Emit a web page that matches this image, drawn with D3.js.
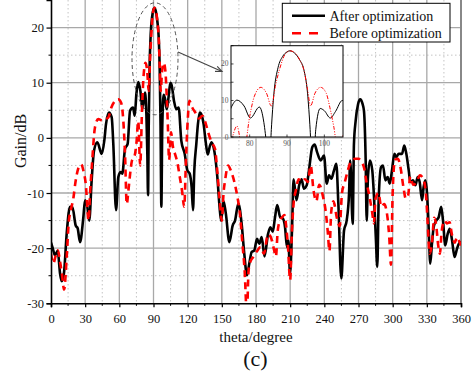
<!DOCTYPE html>
<html><head><meta charset="utf-8">
<script src="https://cdn.jsdelivr.net/npm/d3@7"></script>
<style>
body{margin:0;background:#fff}
svg{display:block;font-family:"Liberation Serif","Times New Roman",serif}
</style>
</head><body>
<svg id="chart" width="473" height="379"></svg>
<script>
// ---- data (theta in degrees, gain in dB) ----
const afterSeries = [[0,-19],[1.5,-20],[3.5,-21.3],[5.9,-20.5],[7.9,-24.5],[9.4,-26],[11.4,-24.5],[13.8,-17.3],[16.7,-12.5],[18.7,-12.5],[21.7,-15.9],[23.4,-16.4],[25.5,-18.9],[28.4,-14.4],[29.9,-11.3],[31.9,-12.5],[33.6,-15],[35.7,-7.7],[37.8,-2.3],[40.7,-0.8],[44.5,-2.9],[46.8,-0.5],[48.3,2.5],[50.9,4.6],[53.3,3.7],[54.7,-1.1],[57.1,-13.1],[59.1,-7.1],[61.2,-6.2],[62.6,-6.5],[65,-2],[67.3,-1.1],[69.4,4.9],[72,5.5],[73.5,4],[75,8],[76.6,10.1],[78.5,8.5],[80.2,5.2],[82.6,8.2],[83.8,4],[84.6,-3],[85.2,-10.4],[85.8,2],[86.5,12],[87.6,19],[88.8,22],[90,23.3],[90.8,23.6],[92,23],[93.4,21.1],[94.5,18.5],[95.5,12],[96.2,2],[96.9,-12.5],[97.7,2],[98.9,7.8],[100,7.2],[101.6,5.2],[103,7],[104.8,10],[106,9.5],[108,6.7],[110,5.2],[112.1,5.5],[114.4,-0.5],[117.4,-2.9],[119.7,-5.9],[121.8,-6.5],[123.5,-9],[124.7,-13.1],[125.8,-6],[127.6,-1.1],[129,2.5],[130.6,4.6],[132.5,4],[134,2.5],[136,-1],[137.6,-3],[139.5,-1.5],[141,-0.8],[143.5,-2.5],[146,-7],[148,-12.5],[149.3,-15],[151.5,-11.5],[153.5,-13.7],[156.6,-18.9],[159.5,-15.9],[161.6,-15],[164.5,-11.9],[167.4,-15.6],[169.7,-21],[172.1,-24.9],[174.1,-22.8],[176.2,-20.7],[178.5,-20.4],[180.9,-18.3],[182.9,-19.2],[185,-18],[187.5,-21.5],[190.5,-17.5],[192.6,-16.2],[194.7,-17],[196.7,-14.4],[198.6,-12.2],[201.3,-14.4],[203.5,-14.6],[205.5,-16.2],[207.2,-19.8],[208.4,-18.6],[209.9,-24.6],[211.6,-16.8],[213,-7.5],[215.5,-11.3],[218,-8.5],[220,-7.5],[222.1,-9.2],[224.5,-8.6],[226.5,-5.9],[229.4,-1.7],[231.5,-1.2],[233.5,-2.5],[236.8,-4.1],[239.7,-3.2],[242.1,-8.3],[244.1,-6.8],[246.1,-7.4],[248.5,-5.9],[250.5,-4.7],[252.3,-11.9],[254.9,-25.5],[257.3,-16.8],[259.6,-15],[261.7,-10.1],[262.7,-4.1],[264.9,-15.6],[266,-1.1],[267.5,3.1],[269.6,6.1],[271.5,7],[273.5,6.2],[274.8,4.9],[276.3,-4.1],[277.2,-15],[278.3,-7.1],[280.1,-4.1],[282.1,-5.9],[283.6,-10.7],[285.2,-18],[286.5,-23.4],[287.7,-11.3],[289.8,-5.3],[291.5,-5],[293.6,-7.7],[295.6,-7.1],[297.4,-8.3],[299.4,-5.9],[301.5,-2.9],[303.2,-3.5],[305.3,-2.9],[308.2,-2.9],[310.2,-1.4],[312,-2.9],[314.1,-5.9],[315.5,-8],[317.9,-7.7],[319.9,-8.6],[322,-7.1],[323.7,-8],[325.8,-11.3],[327.2,-8.9],[328.7,-7.7],[330.2,-10.1],[331.6,-16.2],[333,-22.8],[334.5,-19.2],[336,-16.2],[338.3,-15],[340.4,-14.4],[342.6,-12.5],[344.2,-15],[346.2,-19.5],[348.3,-17.4],[350.1,-16.5],[352.1,-18.5],[354.3,-21.6],[356.5,-20.1],[358.9,-19],[360,-19]];

const beforeSeries = [[0,-21],[2,-22.8],[4,-21.5],[6,-20.4],[8,-22.5],[9.5,-24.5],[11.5,-27.5],[13.8,-21.6],[15.5,-15.5],[17.5,-13],[19.6,-11],[21.5,-8],[24,-5.5],[26.5,-4.8],[28.5,-6],[30.5,-8.3],[33,-15],[34.3,-10],[36,-4.7],[38.6,1.9],[41.5,3.4],[44,3.2],[46,3.1],[48,3.4],[50.3,3.7],[53,5.5],[56.2,6.7],[59,7],[61.5,6.4],[63.5,3.1],[65,-3],[66.5,-12],[68,-9.5],[69.5,-6.5],[71,-4.2],[73.5,-3.2],[75,-1],[76.6,3],[78.3,-5],[80,5.6],[81.2,11],[83,13.6],[84.5,12],[85.8,8.5],[87,14.5],[88,18.5],[89.4,22.5],[90.8,23.6],[92.2,23],[93.4,21.1],[94.6,18],[95.5,13],[96.3,8.5],[97.5,12],[99,13.6],[100.5,12],[101.5,8],[102.5,3],[103.7,-4],[105.4,1],[107,-1.5],[109,-3],[111,-4.5],[113,-7],[115,-9.5],[117,-12.5],[118.5,-4],[120,3],[121.5,6.7],[124,5.5],[127,4.5],[130,3.5],[133,4],[136,2.5],[138,1],[141,-0.8],[144,-2],[146,-6],[148,-11],[150,-15],[151.5,-10],[153,-7.5],[155.5,-5],[158,-6],[161,-8],[163.5,-10.5],[166,-14],[168,-19],[170,-24],[172,-32],[173.5,-24],[175,-22.5],[178,-21.5],[181,-20.5],[184,-19.8],[187,-21],[190.5,-17.5],[193,-18],[195.5,-20],[197.5,-21.5],[199,-17],[201,-15],[203,-14.4],[205,-14],[206.5,-16],[208,-19.5],[210,-25.8],[211.5,-17],[213,-12],[215,-9.5],[217.5,-7.5],[220,-8],[223,-7.5],[225.5,-8],[228,-5],[230.5,-9.5],[233,-11.5],[235.5,-8.5],[239,-10.8],[241,-13],[243,-17],[244.5,-20.5],[246,-13.5],[248,-11.5],[251,-14.5],[253.5,-16],[255.5,-10],[258,-8],[260.5,-6],[263,-4.5],[267,-3.8],[270,-3.8],[273,-4.5],[275,-5.5],[277,-8],[279.5,-10.5],[282,-13.5],[283.5,-15.5],[285,-11],[287.5,-10],[290,-12.5],[292.5,-12],[295.5,-14.5],[297,-18],[298.5,-23],[300,-10],[302,-4],[304.5,-3.8],[307,-5.5],[309.5,-9],[311.5,-11],[313.5,-10.5],[315.5,-7],[318,-8.5],[321,-8],[324,-6.8],[327,-7.5],[329.5,-11],[330.5,-14.5],[332.5,-21],[334.5,-19],[336.5,-14.5],[338,-15.5],[340,-19.5],[341.5,-21],[343,-17],[345.5,-15],[347.5,-15.5],[350,-15.3],[352,-17.5],[354.5,-19],[356.5,-18],[358.5,-18.8],[360,-19.5]];

const seriesNames = ["After optimization", "Before optimization"];
const xTicks = [0,30,60,90,120,150,180,210,240,270,300,330,360];
const xMinor = [15,45,75,105,135,165,195,225,255,285,315,345];
const yTicks = [-30,-20,-10,0,10,20];
const yMinor = [-25,-15,-5,5,15];
const insetXTicks = [80,90,100];
const insetYTicks = [0,10,20];
const xTitle = "theta/degree";
const yTitle = "Gain/dB";
const panelLabel = "(c)";

// ---- layout ----
const svg = d3.select("#chart");
const L = 51, R = 461, T = 0, B = 303.3;
const x = d3.scaleLinear().domain([0,360]).range([L,R]);
const y = d3.scaleLinear().domain([-30,25]).range([B,T]);

const defs = svg.append("defs");
defs.append("clipPath").attr("id","plotClip").append("rect")
  .attr("x",L).attr("y",T).attr("width",R-L).attr("height",B-T);
const IL = 231, IR = 343, IT = 45.7, IB = 137;
defs.append("clipPath").attr("id","insetClip").append("rect")
  .attr("x",IL).attr("y",IT).attr("width",IR-IL).attr("height",IB-IT);

// grid
const grid = svg.append("g");
grid.selectAll(".vmin").data(xMinor).join("line")
  .attr("x1",d=>x(d)).attr("x2",d=>x(d)).attr("y1",T).attr("y2",B)
  .attr("stroke","#c4c4c4").attr("stroke-width",1).attr("stroke-dasharray","1.5,2.5");
grid.selectAll(".hmin").data(yMinor).join("line")
  .attr("y1",d=>y(d)).attr("y2",d=>y(d)).attr("x1",L).attr("x2",R)
  .attr("stroke","#c4c4c4").attr("stroke-width",1).attr("stroke-dasharray","1.5,2.5");
grid.selectAll(".vmaj").data(xTicks.filter(d=>d>0&&d<360)).join("line")
  .attr("x1",d=>x(d)).attr("x2",d=>x(d)).attr("y1",T).attr("y2",B)
  .attr("stroke","#a8a8a8").attr("stroke-width",1.3);
grid.selectAll(".hmaj").data(yTicks.filter(d=>d>-30)).join("line")
  .attr("y1",d=>y(d)).attr("y2",d=>y(d)).attr("x1",L).attr("x2",R)
  .attr("stroke","#a8a8a8").attr("stroke-width",1.3);
// right frame
svg.append("line").attr("x1",x(360)).attr("x2",x(360)).attr("y1",T).attr("y2",B)
  .attr("stroke","#888").attr("stroke-width",2);

// curves
const line = d3.line().x(d=>x(d[0])).y(d=>y(d[1])).curve(d3.curveMonotoneX);
const plot = svg.append("g").attr("clip-path","url(#plotClip)");
plot.append("path").datum(afterSeries).attr("d",line)
  .attr("fill","none").attr("stroke","#000").attr("stroke-width",2.6).attr("stroke-linejoin","round");
plot.append("path").datum(beforeSeries).attr("d",line)
  .attr("fill","none").attr("stroke","#ff0000").attr("stroke-width",2.6).attr("stroke-dasharray","7,5");

// ellipse & arrow
svg.append("ellipse").attr("cx",155).attr("cy",58.8).attr("rx",23).attr("ry",56)
  .attr("fill","none").attr("stroke","#555").attr("stroke-width",1).attr("stroke-dasharray","4,3");
const ax1=178, ay1=52, ax2=222, ay2=71.5;
svg.append("line").attr("x1",ax1).attr("y1",ay1).attr("x2",ax2).attr("y2",ay2)
  .attr("stroke","#444").attr("stroke-width",1.1);
const ang = Math.atan2(ay2-ay1, ax2-ax1);
const ah = 7;
svg.append("path")
  .attr("d",`M${ax2-ah*Math.cos(ang-0.4)},${ay2-ah*Math.sin(ang-0.4)}L${ax2},${ay2}L${ax2-ah*Math.cos(ang+0.4)},${ay2-ah*Math.sin(ang+0.4)}`)
  .attr("fill","none").attr("stroke","#444").attr("stroke-width",1.1);

// inset
const xi = d3.scaleLinear().domain([75,105]).range([IL,IR]);
const yi = d3.scaleLinear().domain([0,25]).range([IB,IT]);
const inset = svg.append("g");
inset.append("rect").attr("x",IL).attr("y",IT).attr("width",IR-IL).attr("height",IB-IT)
  .attr("fill","#fff");
const lineI = d3.line().x(d=>xi(d[0])).y(d=>yi(d[1])).curve(d3.curveMonotoneX);
const inG = inset.append("g").attr("clip-path","url(#insetClip)");
inG.append("path").datum(afterSeries).attr("d",lineI)
  .attr("fill","none").attr("stroke","#000").attr("stroke-width",1);
inG.append("path").datum(beforeSeries).attr("d",lineI)
  .attr("fill","none").attr("stroke","#ff0000").attr("stroke-width",1).attr("stroke-dasharray","4,1.5,1,1.5,1,1.5");
inset.append("rect").attr("x",IL).attr("y",IT).attr("width",IR-IL).attr("height",IB-IT)
  .attr("fill","none").attr("stroke","#000").attr("stroke-width",1);
inset.selectAll(".ixt").data(insetXTicks).join("line")
  .attr("x1",d=>xi(d)).attr("x2",d=>xi(d)).attr("y1",IB).attr("y2",IB-2.5).attr("stroke","#000").attr("stroke-width",0.7);
inset.selectAll(".iyt").data(d3.range(0,26,5)).join("line")
  .attr("y1",d=>yi(d)).attr("y2",d=>yi(d)).attr("x1",IL).attr("x2",IL+2.5).attr("stroke","#000").attr("stroke-width",0.7);
inset.selectAll(".ixl").data(insetXTicks).join("text")
  .attr("x",d=>xi(d)).attr("y",IB+9).attr("text-anchor","middle")
  .attr("font-size",7.5).attr("fill","#555").text(d=>d);
inset.selectAll(".iyl").data(insetYTicks).join("text")
  .attr("x",IL-2.5).attr("y",d=>yi(d)+2.5).attr("text-anchor","end")
  .attr("font-size",7.5).attr("fill","#555").text(d=>d);

// axes
const xAxis = d3.axisBottom(x).tickValues(xTicks).tickSize(4).tickPadding(6.5).tickFormat(d=>String(d));
const gx = svg.append("g").attr("transform",`translate(0,${B})`).call(xAxis);
gx.select(".domain").attr("stroke","#000").attr("stroke-width",1.6);
gx.selectAll(".tick line").attr("stroke","#000").attr("stroke-width",1.2);
gx.selectAll("text").attr("font-size",12.5).attr("font-family","Liberation Serif").attr("fill","#111");
gx.selectAll(".mt").data(xMinor).join("line").attr("x1",d=>x(d)).attr("x2",d=>x(d))
  .attr("y1",0).attr("y2",2.5).attr("stroke","#000").attr("stroke-width",1);

const yAxis = d3.axisLeft(y).tickValues(yTicks).tickSize(4.5).tickPadding(2.5).tickFormat(d=>String(d));
const gy = svg.append("g").attr("transform",`translate(${L},0)`).call(yAxis);
gy.select(".domain").attr("stroke","#000").attr("stroke-width",1.6);
gy.selectAll(".tick line").attr("stroke","#000").attr("stroke-width",1.2);
gy.selectAll("text").attr("font-size",12.5).attr("font-family","Liberation Serif").attr("fill","#111");
gy.selectAll(".mt").data(yMinor).join("line").attr("y1",d=>y(d)).attr("y2",d=>y(d))
  .attr("x1",0).attr("x2",-2.5).attr("stroke","#000").attr("stroke-width",1);

// titles
svg.append("text").attr("x",256).attr("y",342).attr("text-anchor","middle")
  .attr("font-size",15).attr("fill","#111").text(xTitle);
svg.append("text").attr("transform","translate(26,141) rotate(-90)").attr("text-anchor","middle")
  .attr("font-size",16).attr("fill","#111").text(yTitle);
svg.append("text").attr("x",255.5).attr("y",366).attr("text-anchor","middle")
  .attr("font-size",22).attr("fill","#111").text(panelLabel);

// legend
const lg = svg.append("g");
lg.append("rect").attr("x",282.3).attr("y",3.3).attr("width",167.7).attr("height",38.7)
  .attr("fill","#fff").attr("stroke","#000").attr("stroke-width",1);
const legY = [15.7, 33.3];
lg.append("line").attr("x1",292).attr("x2",325).attr("y1",legY[0]).attr("y2",legY[0])
  .attr("stroke","#000").attr("stroke-width",2.6);
lg.append("line").attr("x1",292).attr("x2",325).attr("y1",legY[1]).attr("y2",legY[1])
  .attr("stroke","#ff0000").attr("stroke-width",2.6).attr("stroke-dasharray","9,8");
lg.selectAll(".lt").data(seriesNames).join("text")
  .attr("x",329.5).attr("y",(d,i)=>legY[i]+4.8).attr("font-size",14).attr("fill","#111").text(d=>d);
</script>
</body></html>
